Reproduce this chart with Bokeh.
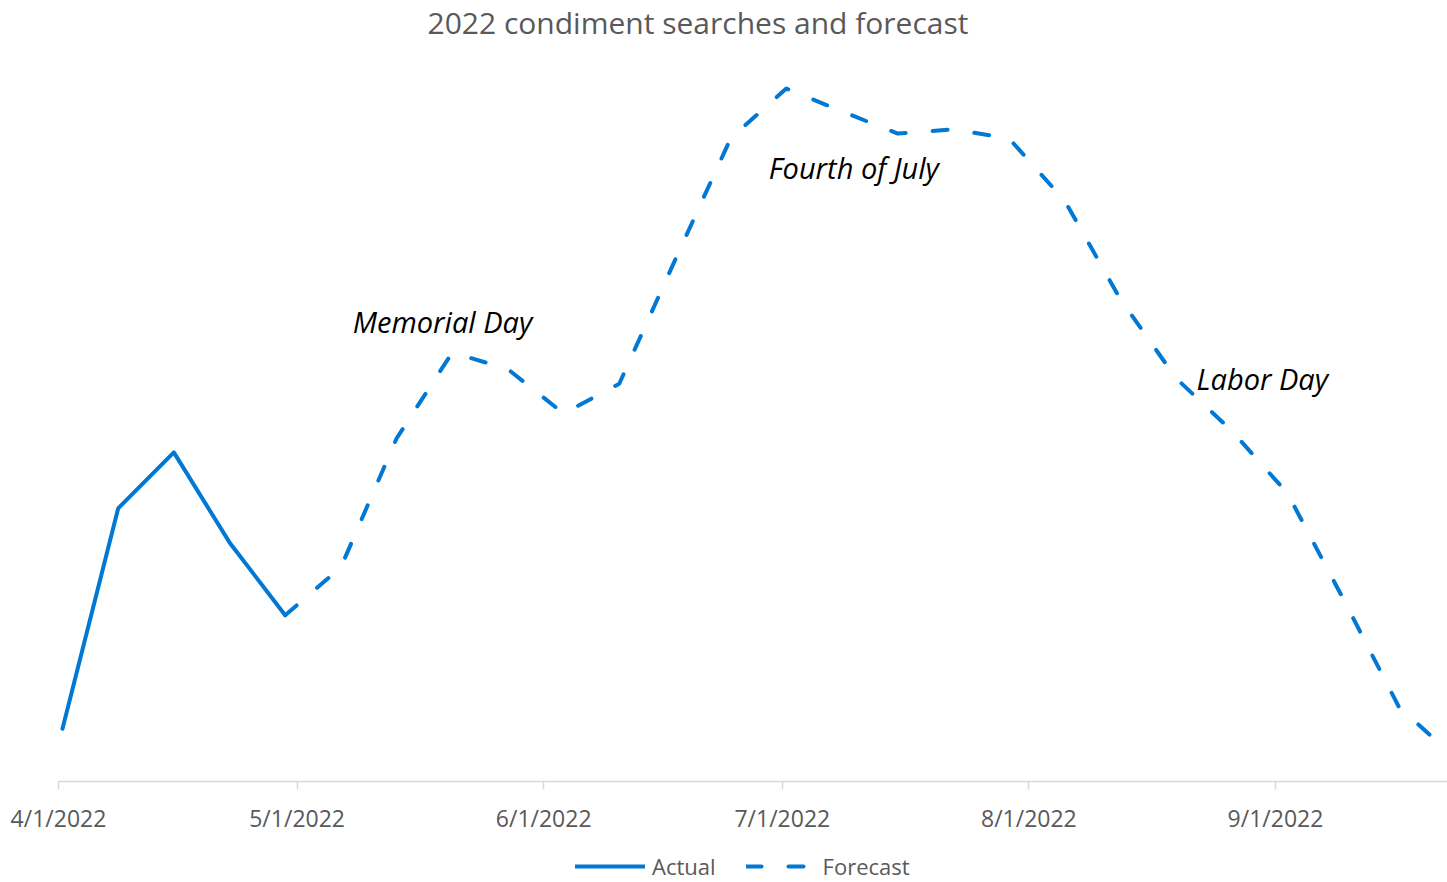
import pandas as pd
from bokeh.plotting import figure
from bokeh.models import ColumnDataSource, FixedTicker, Range1d, Legend, LegendItem, Label
from bokeh.embed import file_html
from bokeh.resources import INLINE

# ---- data ----
title_text = "2022 condiment searches and forecast"

actual_dates = ["2022-04-01", "2022-04-08", "2022-04-15", "2022-04-22", "2022-04-29"]
actual_values = [7.6, 39.4, 47.5, 34.5, 24.0]

forecast_dates = ["2022-04-29", "2022-05-06", "2022-05-13", "2022-05-20", "2022-05-27",
                  "2022-06-03", "2022-06-10", "2022-06-17", "2022-06-24", "2022-07-01",
                  "2022-07-08", "2022-07-15", "2022-07-22", "2022-07-29", "2022-08-05",
                  "2022-08-12", "2022-08-19", "2022-08-26", "2022-09-02", "2022-09-09",
                  "2022-09-16", "2022-09-23"]
forecast_values = [24.0, 30.9, 49.5, 61.9, 59.5, 53.1, 57.4, 75.2, 92.8, 100.0,
                   96.7, 93.5, 94.1, 92.8, 83.8, 69.6, 58.2, 50.6, 41.6, 26.4,
                   10.8, 3.5]

tick_dates = ["2022-04-01", "2022-05-01", "2022-06-01", "2022-07-01", "2022-08-01", "2022-09-01"]
tick_labels = ["4/1/2022", "5/1/2022", "6/1/2022", "7/1/2022", "8/1/2022", "9/1/2022"]

annot_texts = ["Memorial Day", "Fourth of July", "Labor Day"]
annot_dates = ["2022-05-07 12:00", "2022-06-28 19:00", "2022-08-21 14:00"]
annot_values = [66.4, 88.6, 58.2]

BLUE = "#0078D4"
GRAY = "#595959"
FONT = "Open Sans"

def ms(s):
    return (pd.Timestamp(s) - pd.Timestamp("1970-01-01")).total_seconds() * 1000.0

DAY = 86400000.0
half = DAY / 2

# layout geometry (pixels)
W, H = 1447, 882
axis_left_px = 58      # where the date axis begins
axis_y_px = 781        # where the value axis baseline sits (from top)
px_per_day = 7.954
px_per_unit = 6.93

x_start = ms(tick_dates[0]) - half - axis_left_px / px_per_day * DAY
x_end = x_start + W / px_per_day * DAY
y_start = -(H - axis_y_px) / px_per_unit
y_end = y_start + H / px_per_unit

p = figure(frame_width=W, frame_height=H, x_axis_type="datetime", y_axis_location=None,
           output_backend="svg", toolbar_location=None,
           x_range=Range1d(x_start, x_end), y_range=Range1d(y_start, y_end),
           min_border_left=0, min_border_right=0, min_border_top=0, min_border_bottom=0)

p.outline_line_color = None
p.xgrid.visible = False
p.ygrid.visible = False

src_a = ColumnDataSource(dict(x=[ms(d) for d in actual_dates], y=actual_values))
src_f = ColumnDataSource(dict(x=[ms(d) for d in forecast_dates], y=forecast_values))

r_f = p.line("x", "y", source=src_f, line_color=BLUE, line_width=4, line_dash="15 27",
             line_cap="round", line_join="round")
r_a = p.line("x", "y", source=src_a, line_color=BLUE, line_width=4,
             line_cap="round", line_join="round")

ticks = [ms(d) - half for d in tick_dates]
ax = p.xaxis[0]
ax.fixed_location = 0
ax.bounds = (ticks[0], x_end)
ax.ticker = FixedTicker(ticks=ticks)
ax.major_label_overrides = {t: lab for t, lab in zip(ticks, tick_labels)}
ax.axis_line_color = "#d9d9d9"
ax.axis_line_width = 1.5
ax.major_tick_line_color = "#d9d9d9"
ax.major_tick_line_width = 1.5
ax.major_tick_out = 8
ax.major_tick_in = 0
ax.minor_tick_line_color = None
ax.major_label_text_font = FONT
ax.major_label_text_font_size = "23px"
ax.major_label_text_color = GRAY
ax.major_label_standoff = 12

p.add_layout(Label(x=697.5, y=H - 22, x_units="screen", y_units="screen", text=title_text,
                   text_font=FONT, text_font_size="30px", text_color=GRAY,
                   text_align="center", text_baseline="middle"))

for t, d, v in zip(annot_texts, annot_dates, annot_values):
    p.add_layout(Label(x=ms(d), y=v, text=t, text_font=FONT, text_font_size="29px",
                       text_font_style="italic", text_color="#000000",
                       text_align="left", text_baseline="middle"))

legend = Legend(items=[LegendItem(label="Actual", renderers=[r_a]),
                       LegendItem(label="Forecast", renderers=[r_f])],
                orientation="horizontal", location=(575, 1),
                label_text_font=FONT, label_text_font_size="22px", label_text_color=GRAY,
                glyph_width=70, label_standoff=7, spacing=30, padding=0, margin=0,
                border_line_color=None, background_fill_alpha=0)
p.add_layout(legend, "center")

open("out.html", "w").write(file_html(p, INLINE))
